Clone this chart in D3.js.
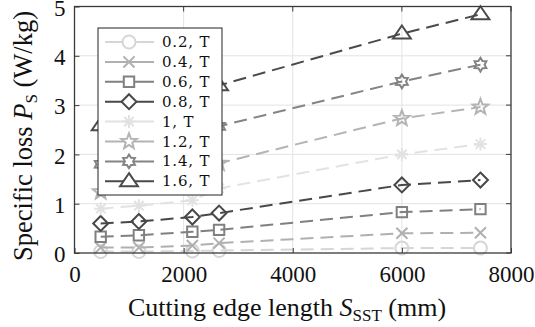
<!DOCTYPE html>
<html><head><meta charset="utf-8">
<script src="https://cdn.jsdelivr.net/npm/d3@7"></script>
<style>body{margin:0;background:#fff}svg{display:block}
.serif{font-family:'Liberation Serif','Times New Roman','DejaVu Serif',serif}
.lgt{font-family:'DejaVu Serif','Liberation Serif',serif}
</style>
</head><body>
<script>
const xValues = [480, 1180, 2160, 2650, 6000, 7440];
const seriesNames = ["0.2, T","0.4, T","0.6, T","0.8, T","1, T","1.2, T","1.4, T","1.6, T"];
const s02 = [0.03, 0.03, 0.04, 0.05, 0.10, 0.10];
const s04 = [0.11, 0.11, 0.15, 0.20, 0.40, 0.41];
const s06 = [0.33, 0.36, 0.43, 0.47, 0.83, 0.89];
const s08 = [0.60, 0.64, 0.73, 0.81, 1.38, 1.48];
const s10 = [0.90, 0.96, 1.07, 1.31, 2.00, 2.21];
const s12 = [1.24, 1.40, 1.68, 1.82, 2.73, 2.96];
const s14 = [1.80, 2.00, 2.40, 2.57, 3.48, 3.82];
const s16 = [2.59, 2.85, 3.20, 3.40, 4.45, 4.84];
const xTicks = [0, 2000, 4000, 6000, 8000];
const yTicks = [0, 1, 2, 3, 4, 5];

const seriesValues = [s02, s04, s06, s08, s10, s12, s14, s16];
const colors = ["#d6d6d6","#b0b0b0","#808080","#484848","#e2e2e2","#b4b4b4","#848484","#4a4a4a"];
const markers = ["circle","cross","square","diamond","asterisk","star","hexagram","triangle"];

const W = 535, H = 327;
const m = {l: 74.5, r: 24, t: 6.5, b: 74};
const svg = d3.select("body").append("svg").attr("width", W).attr("height", H);
const x = d3.scaleLinear().domain([0, 8000]).range([m.l, W - m.r]);
const y = d3.scaleLinear().domain([0, 5]).range([H - m.b, m.t]);

// grid
svg.append("g").selectAll("line").data(xTicks.slice(1,-1)).join("line")
  .attr("x1", d => x(d)).attr("x2", d => x(d)).attr("y1", y(0)).attr("y2", y(5))
  .attr("stroke", "#e3e3e3").attr("stroke-width", 1);
svg.append("g").selectAll("line").data(yTicks.slice(1,-1)).join("line")
  .attr("x1", x(0)).attr("x2", x(8000)).attr("y1", d => y(d)).attr("y2", d => y(d))
  .attr("stroke", "#e3e3e3").attr("stroke-width", 1);

function markerPath(type, r) {
  const p = d3.path();
  if (type === "circle") { p.arc(0, 0, r, 0, 2*Math.PI); }
  else if (type === "cross") { const a = r*0.85; p.moveTo(-a,-a); p.lineTo(a,a); p.moveTo(-a,a); p.lineTo(a,-a); }
  else if (type === "square") { const a = r*0.8; p.rect(-a,-a,2*a,2*a); }
  else if (type === "diamond") { const a = r*1.15; p.moveTo(0,-a); p.lineTo(a,0); p.lineTo(0,a); p.lineTo(-a,0); p.closePath(); }
  else if (type === "asterisk") { const a = r; p.moveTo(-a,0); p.lineTo(a,0); p.moveTo(0,-a); p.lineTo(0,a);
    const b = a*0.72; p.moveTo(-b,-b); p.lineTo(b,b); p.moveTo(-b,b); p.lineTo(b,-b); }
  else if (type === "star") { const R = r*1.25, ri = R*0.42;
    for (let i = 0; i < 10; i++) { const ang = -Math.PI/2 + i*Math.PI/5; const rr = i%2 ? ri : R;
      const px = rr*Math.cos(ang), py = rr*Math.sin(ang); if (i===0) p.moveTo(px,py); else p.lineTo(px,py); } p.closePath(); }
  else if (type === "hexagram") { const R = r*1.05, ri = R*0.6;
    for (let i = 0; i < 12; i++) { const ang = -Math.PI/2 + i*Math.PI/6; const rr = i%2 ? ri : R;
      const px = rr*Math.cos(ang), py = rr*Math.sin(ang); if (i===0) p.moveTo(px,py); else p.lineTo(px,py); } p.closePath(); }
  else if (type === "triangle") { const a = r*1.25; p.moveTo(0,-a); p.lineTo(a*1.1,a*0.6); p.lineTo(-a*1.1,a*0.6); p.closePath(); }
  return p.toString();
}

const line = d3.line().x(d => x(d[0])).y(d => y(d[1]));
seriesValues.forEach((vals, i) => {
  const pts = xValues.map((xv, j) => [xv, vals[j]]);
  const g = svg.append("g");
  g.append("path").attr("d", line(pts)).attr("fill", "none")
    .attr("stroke", colors[i]).attr("stroke-width", 2).attr("stroke-dasharray", "13,7");
  g.selectAll("path.mk").data(pts).join("path").attr("class", "mk")
    .attr("transform", d => `translate(${x(d[0])},${y(d[1])})`)
    .attr("d", markerPath(markers[i], 6.5)).attr("fill", "none")
    .attr("stroke", colors[i]).attr("stroke-width", 2);
});

// axes box
const axCol = "#3a3a3a";
svg.append("rect").attr("x", x(0)).attr("y", y(5)).attr("width", x(8000)-x(0)).attr("height", y(0)-y(5))
  .attr("fill", "none").attr("stroke", axCol).attr("stroke-width", 1.3);
const xAxis = d3.axisBottom(x).tickValues(xTicks).tickSize(-5).tickPadding(13).tickFormat(d3.format("d"));
const yAxis = d3.axisLeft(y).tickValues(yTicks).tickSize(-5).tickPadding(9).tickFormat(d3.format("d"));
const gx = svg.append("g").attr("transform", `translate(0,${y(0)})`).call(xAxis);
const gy = svg.append("g").attr("transform", `translate(${x(0)},0)`).call(yAxis);
[gx, gy].forEach(g => {
  g.attr("font-family", null).attr("font-size", null);
  g.select(".domain").remove();
  g.selectAll("line").attr("stroke", axCol);
  g.selectAll("text").attr("class", "serif").style("font-size", "23px").attr("fill", "#111");
});
gy.selectAll("text").attr("dy", "0.38em");
// right / top ticks
svg.append("g").selectAll("line").data(yTicks).join("line")
  .attr("x1", x(8000)).attr("x2", x(8000)-5).attr("y1", d => y(d)).attr("y2", d => y(d)).attr("stroke", axCol);
svg.append("g").selectAll("line").data(xTicks).join("line")
  .attr("x1", d => x(d)).attr("x2", d => x(d)).attr("y1", y(5)).attr("y2", y(5)+5).attr("stroke", axCol);

// axis labels
const xl = svg.append("text").attr("class", "serif").attr("x", 287).attr("y", 316).attr("text-anchor", "middle")
  .style("font-size", "26px").attr("fill", "#111");
xl.append("tspan").text("Cutting edge length ");
xl.append("tspan").attr("font-style", "italic").text("S");
xl.append("tspan").style("font-size", "17px").attr("dy", 5).text("SST");
xl.append("tspan").attr("dy", -5).text(" (mm)");

const yl = svg.append("text").attr("class", "serif").attr("transform", `translate(32,136) rotate(-90)`).attr("text-anchor", "middle")
  .style("font-size", "26.5px").attr("fill", "#111");
yl.append("tspan").text("Specific loss ");
yl.append("tspan").attr("font-style", "italic").text("P");
yl.append("tspan").style("font-size", "17px").attr("dy", 5).text("S");
yl.append("tspan").attr("dy", -5).text(" (W/kg)");

// legend
const lg = svg.append("g");
const lx = 98, ly = 28, lw = 124, lh = 167;
lg.append("rect").attr("x", lx).attr("y", ly).attr("width", lw).attr("height", lh)
  .attr("fill", "#fff").attr("stroke", "#222").attr("stroke-width", 1);
seriesNames.forEach((name, i) => {
  const cy = ly + 14 + i * 19.9;
  lg.append("line").attr("x1", lx + 7).attr("x2", lx + 56).attr("y1", cy).attr("y2", cy)
    .attr("stroke", colors[i]).attr("stroke-width", 2);
  lg.append("path").attr("transform", `translate(${lx + 31},${cy})`).attr("d", markerPath(markers[i], 6.5))
    .attr("fill", "#fff").attr("stroke", colors[i]).attr("stroke-width", 2);
  lg.append("text").attr("class", "lgt").attr("x", lx + 64).attr("y", cy + 5).text(name)
    .style("font-size", "15px").style("letter-spacing", "0.8px").attr("fill", "#111");
});
</script>
</body></html>
